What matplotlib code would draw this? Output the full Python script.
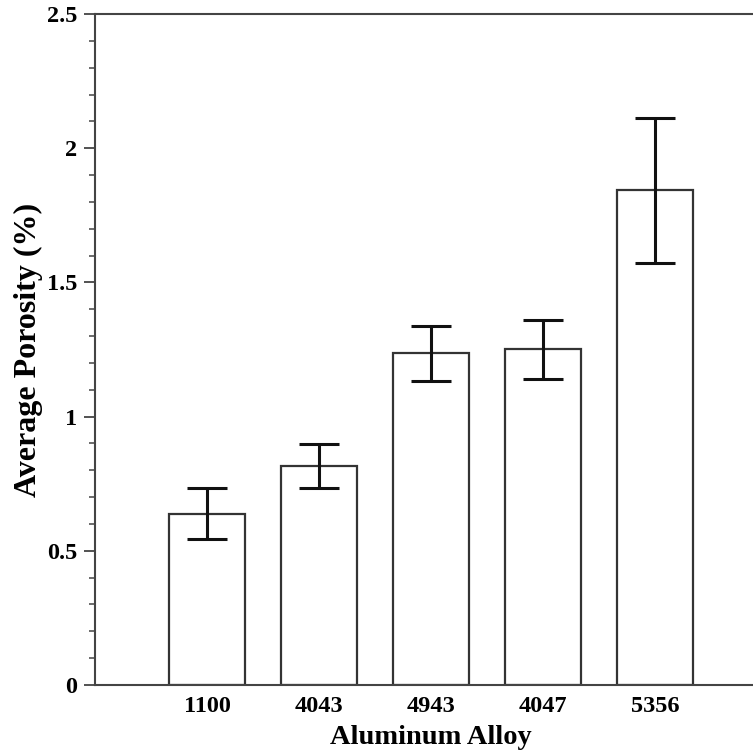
import matplotlib
matplotlib.use("Agg")
import matplotlib.pyplot as plt
from matplotlib.ticker import MultipleLocator

alloys = ["1100", "4043", "4943", "4047", "5356"]
porosity = [0.637, 0.816, 1.238, 1.251, 1.844]
err_low = [0.092, 0.082, 0.104, 0.110, 0.273]
err_high = [0.096, 0.081, 0.100, 0.109, 0.270]

plt.rcParams['font.family'] = ['Liberation Serif', 'DejaVu Serif']
plt.rcParams['font.weight'] = 'bold'

W = 753
fig = plt.figure(figsize=(7.53, 7.53), dpi=100)
left, bottom, top = 95 / W, (W - 685) / W, (W - 14) / W
unit = 112 / W
axw = 6 * unit
ax = fig.add_axes([left, bottom, axw, top - bottom])

x = list(range(1, len(alloys) + 1))
ax.bar(x, porosity, width=0.68, color='white', edgecolor='#333333', linewidth=1.6, zorder=2)
ax.errorbar(x, porosity, yerr=[err_low, err_high], fmt='none', ecolor='#111111',
            elinewidth=2.2, capsize=14.4, capthick=2.2, zorder=3)

ax.set_xlim(0, 6)
ax.set_ylim(0, 2.5)
ax.set_xticks(x)
ax.set_xticklabels(alloys, fontsize=17.5, fontweight='bold')
ax.tick_params(axis='x', length=0, pad=8)
ax.yaxis.set_major_locator(MultipleLocator(0.5))
ax.yaxis.set_minor_locator(MultipleLocator(0.1))
ax.set_yticks([0, 0.5, 1, 1.5, 2, 2.5])
ax.set_yticklabels(['0', '0.5', '1', '1.5', '2', '2.5'], fontsize=17.5, fontweight='bold')
ax.tick_params(axis='y', which='major', direction='out', length=8, width=1.3, color='#444444', pad=5)
ax.tick_params(axis='y', which='minor', direction='out', length=4.5, width=1.1, color='#444444')

for s in ['left', 'bottom', 'top']:
    ax.spines[s].set_color('#444444')
    ax.spines[s].set_linewidth(1.5)
ax.spines['right'].set_visible(False)

axh_px = 685 - 14
ax.set_ylabel('Average Porosity (%)', fontsize=23, fontweight='bold')
ax.yaxis.set_label_coords((43 - 95) / (axw * W), 0.5)
ax.set_xlabel('Aluminum Alloy', fontsize=20.5, fontweight='bold')
ax.xaxis.set_label_coords(0.5, -(725 - 685) / axh_px)

fig.savefig('out.png', dpi=100)
